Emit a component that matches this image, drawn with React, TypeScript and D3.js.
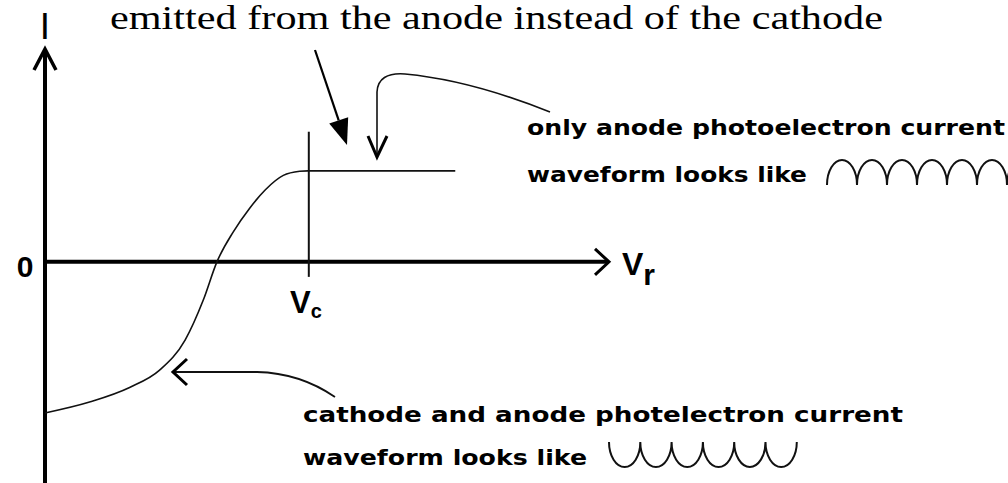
import React from "react";
import * as d3 from "d3";

const W = 1008;
const H = 483;

// Photocurrent vs. retarding voltage (arbitrary units, current scaled to the anode plateau)
const voltage = [0, 0.49, 0.93, 1.26, 1.54, 1.74, 1.89, 2.07, 2.25, 2.42, 2.62, 2.8, 2.89, 4.51];
const current = [-1.66, -1.54, -1.38, -1.19, -0.86, -0.42, 0, 0.33, 0.59, 0.79, 0.95, 0.995, 1.0, 1.0];
const cutoffVoltage = 2.9;
const cutoffMarkerSpan = [-0.165, 1.43];
const voltageDomain = [0, 6.2];
const currentDomain = [-2.43, 2.35];
const zeroTick = ["0"];

const titleText = "emitted from the anode instead of the cathode";
const anodeLines = ["only anode photoelectron current", "waveform looks like"];
const mixedLines = ["cathode and anode photelectron current", "waveform looks like"];

const pixelFont = "'DejaVu Sans', Verdana, sans-serif";
const sansFont = "'Liberation Sans', Arial, sans-serif";
const serifFont = "'Liberation Serif', 'Times New Roman', serif";

// Small rectified-wave glyph built from elliptical half arches
function archGlyph(x0: number, baseY: number, period: number, amp: number, count: number, up: boolean) {
  let s = "M" + x0 + "," + baseY;
  for (let i = 0; i < count; i++) {
    const xe = x0 + (i + 1) * period;
    s += ` A${period / 2},${amp} 0 0 ${up ? 1 : 0} ${xe},${baseY}`;
  }
  return s;
}

export default function App() {
  const x = d3.scaleLinear().domain(voltageDomain).range([45, 609]);
  const y = d3.scaleLinear().domain(currentDomain).range([H, 48]);

  const pts: [number, number][] = voltage.map((v, i) => [v, current[i]]);
  const line = d3
    .line<[number, number]>()
    .x((d) => x(d[0]))
    .y((d) => y(d[1]))
    .curve(d3.curveMonotoneX);

  const x0 = x(0);
  const y0 = y(0);
  const xEnd = x(voltageDomain[1]);
  const yTop = y(currentDomain[1]);
  const xc = x(cutoffVoltage);

  // title callout arrow with a filled head
  const a0 = [315, 50];
  const a1 = [347, 145];
  const dx = a1[0] - a0[0];
  const dy = a1[1] - a0[1];
  const len = Math.hypot(dx, dy);
  const ux = dx / len;
  const uy = dy / len;
  const hb = [a1[0] - 26 * ux, a1[1] - 26 * uy];
  const head = `M${a1[0]},${a1[1]} L${hb[0] - 10 * uy},${hb[1] + 10 * ux} L${hb[0] + 10 * uy},${hb[1] - 10 * ux} Z`;

  return (
    <svg width={W} height={H} style={{ display: "block", position: "absolute", left: 0, top: 0, background: "#fff" }}>
      <rect width={W} height={H} fill="#fff" />

      {/* title annotation */}
      <text x={110} y={29} fontFamily={serifFont} fontSize={34} textLength={773} lengthAdjust="spacingAndGlyphs" fill="#000">
        {titleText}
      </text>
      <line x1={a0[0]} y1={a0[1]} x2={hb[0]} y2={hb[1]} stroke="#000" strokeWidth={2.2} />
      <path d={head} fill="#000" />

      {/* axes */}
      <line x1={x0} y1={H} x2={x0} y2={yTop + 2} stroke="#000" strokeWidth={4} />
      <path d={`M${x0 - 11},${yTop + 22} L${x0},${yTop + 1} L${x0 + 11},${yTop + 22}`} fill="none" stroke="#000" strokeWidth={3.5} strokeLinejoin="miter" />
      <line x1={x0} y1={y0} x2={xEnd - 2} y2={y0} stroke="#000" strokeWidth={4} />
      <path d={`M${xEnd - 14},${y0 - 13} L${xEnd},${y0} L${xEnd - 14},${y0 + 13}`} fill="none" stroke="#000" strokeWidth={3} />

      <text x={x0} y={39} textAnchor="middle" fontFamily={sansFont} fontSize={37} fill="#000">I</text>
      {zeroTick.map((t) => (
        <text key={t} x={25} y={y0 + 15} textAnchor="middle" fontFamily={sansFont} fontWeight="bold" fontSize={30} fill="#000">{t}</text>
      ))}
      <text x={622} y={y0 + 13} fontFamily={sansFont} fontWeight="bold" fontSize={32} fill="#000">
        V
        <tspan fontSize={30} dy={10}>r</tspan>
      </text>

      {/* cutoff marker */}
      <line x1={xc} y1={y(cutoffMarkerSpan[0])} x2={xc} y2={y(cutoffMarkerSpan[1])} stroke="#111" strokeWidth={2} />
      <text x={290} y={313} fontFamily={sansFont} fontWeight="bold" fontSize={31} fill="#000">
        V
        <tspan fontSize={20} dy={5}>c</tspan>
      </text>

      {/* I–V curve */}
      <path d={line(pts) || ""} fill="none" stroke="#111" strokeWidth={1.6} />

      {/* anode-only callout */}
      <path d="M550,112 Q470,80 405,74 Q378,72 377,92 L377,155" fill="none" stroke="#111" strokeWidth={1.6} />
      <path d="M368,136 L377,157 L387,136" fill="none" stroke="#000" strokeWidth={3} />
      <text x={527} y={135} fontFamily={pixelFont} fontWeight="bold" fontSize={21} textLength={478} lengthAdjust="spacingAndGlyphs" fill="#000">
        {anodeLines[0]}
      </text>
      <text x={527} y={182} fontFamily={pixelFont} fontWeight="bold" fontSize={21} textLength={280} lengthAdjust="spacingAndGlyphs" fill="#000">
        {anodeLines[1]}
      </text>
      <path d={archGlyph(827, 185, 30, 25, 7, true)} fill="none" stroke="#111" strokeWidth={2} />

      {/* cathode+anode callout */}
      <path d="M335,397 Q300,373 257,372 L174,372" fill="none" stroke="#111" strokeWidth={1.8} />
      <path d="M187,359 L173,372 L187,385" fill="none" stroke="#000" strokeWidth={3} />
      <text x={303} y={422} fontFamily={pixelFont} fontWeight="bold" fontSize={21} textLength={600} lengthAdjust="spacingAndGlyphs" fill="#000">
        {mixedLines[0]}
      </text>
      <text x={303} y={465} fontFamily={pixelFont} fontWeight="bold" fontSize={21} textLength={284} lengthAdjust="spacingAndGlyphs" fill="#000">
        {mixedLines[1]}
      </text>
      <path d={archGlyph(609, 442, 31.3, 25, 6, false)} fill="none" stroke="#111" strokeWidth={2} />
    </svg>
  );
}
